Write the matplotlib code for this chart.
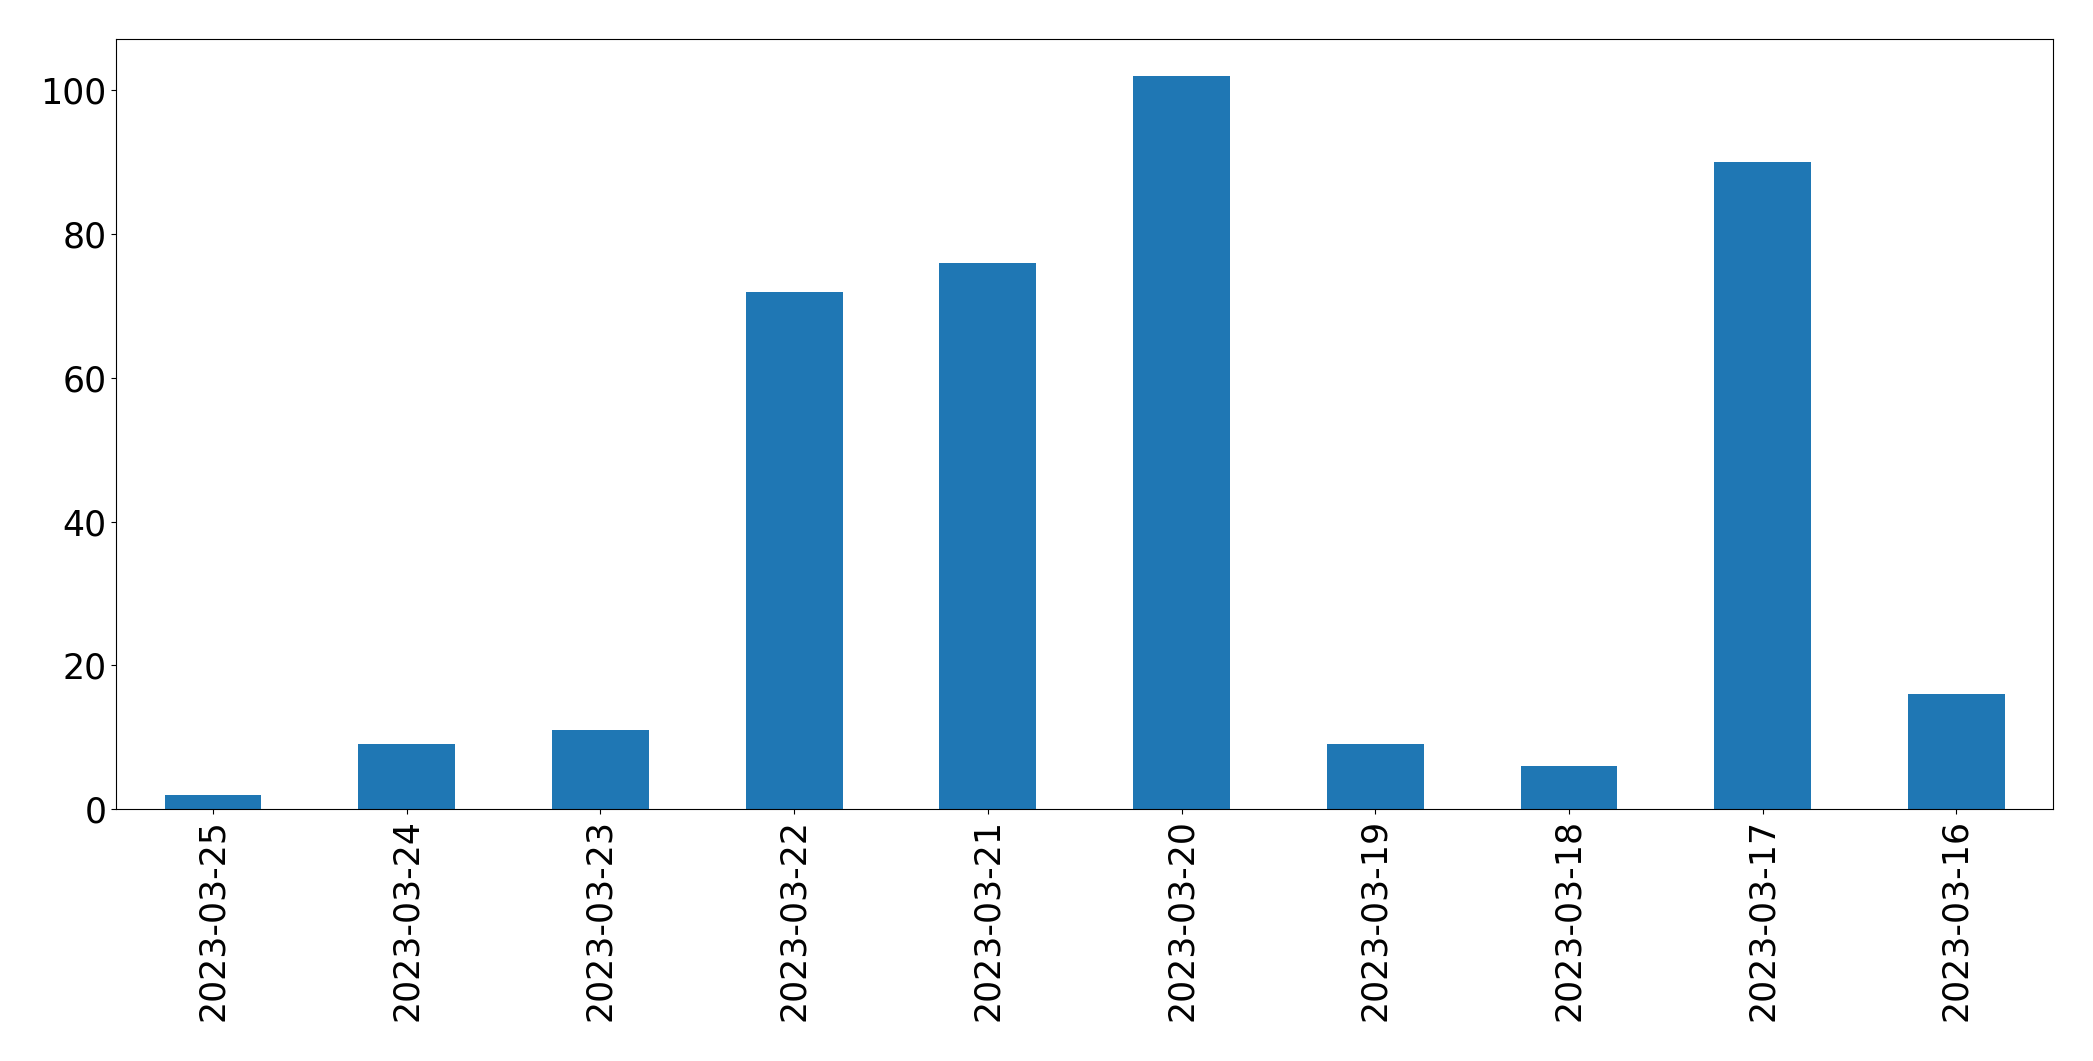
import matplotlib
matplotlib.use("Agg")
import matplotlib.pyplot as plt

dates = ["2023-03-25", "2023-03-24", "2023-03-23", "2023-03-22", "2023-03-21",
         "2023-03-20", "2023-03-19", "2023-03-18", "2023-03-17", "2023-03-16"]
counts = [2, 9, 11, 72, 76, 102, 9, 6, 90, 16]

fig = plt.figure(figsize=(20.93, 10.61), dpi=100)
ax = fig.add_axes([0.0555, 0.2375, 0.9255, 0.7255])
x = list(range(len(dates)))
ax.bar(x, counts, width=0.5, color="#1f77b4")
ax.set_xlim(-0.5, len(dates) - 0.5)
ax.set_xticks(x)
ax.set_xticklabels(dates, rotation=90, fontsize=25)
ax.tick_params(axis="y", labelsize=25)
fig.savefig("out.png", dpi=100)
